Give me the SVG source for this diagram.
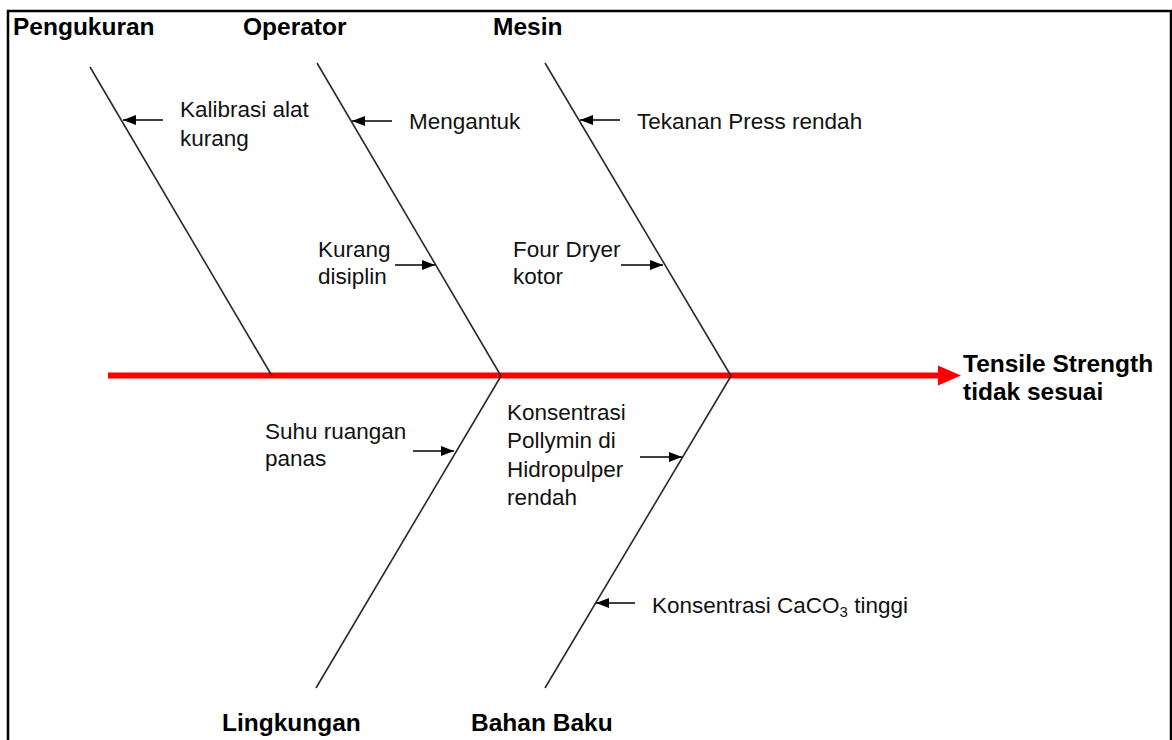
<svg xmlns="http://www.w3.org/2000/svg" width="1172" height="740" viewBox="0 0 1172 740">
  <style>
    .cat { font-family: "Liberation Sans", Arial, sans-serif; font-weight: bold; font-size: 24.5px; fill: #000; }
    .cause { font-family: "Liberation Sans", Arial, sans-serif; font-size: 22.5px; fill: #111; }
    .bone { stroke: #2a2a2a; stroke-width: 1.6; fill: none; }
    .ptr { stroke: #000; stroke-width: 1.6; fill: none; marker-end: url(#head); }
  </style>
  <defs>
    <marker id="head" markerUnits="userSpaceOnUse" markerWidth="14" markerHeight="12" refX="13" refY="6" orient="auto">
      <path d="M0,1 L13,6 L0,11 Z" fill="#000"/>
    </marker>
  </defs>

  <rect width="1172" height="740" fill="#fff"/>
  <!-- frame -->
  <path d="M8,745 V11 H1171 V745" fill="none" stroke="#000" stroke-width="2.5"/>

  <!-- spine and bones -->
  <g id="connectors">
    <line x1="108" y1="375.5" x2="942" y2="375.5" stroke="#ff0000" stroke-width="6"/>
    <polygon points="938,365.5 961,375.5 938,385.5" fill="#ff0000"/>

    <line class="bone" x1="90" y1="67" x2="272" y2="376"/>
    <line class="bone" x1="317" y1="63" x2="501" y2="376"/>
    <line class="bone" x1="545" y1="63" x2="731" y2="376"/>
    <line class="bone" x1="501" y1="376" x2="316" y2="688"/>
    <line class="bone" x1="731" y1="376" x2="545" y2="688"/>

    <line class="ptr" x1="163" y1="120" x2="123" y2="120"/>
    <line class="ptr" x1="392" y1="121" x2="352" y2="121"/>
    <line class="ptr" x1="620" y1="120" x2="580" y2="120"/>
    <line class="ptr" x1="395" y1="265" x2="435" y2="265"/>
    <line class="ptr" x1="621" y1="265" x2="663" y2="265"/>
    <line class="ptr" x1="413" y1="451" x2="454" y2="451"/>
    <line class="ptr" x1="640" y1="457" x2="682" y2="457"/>
    <line class="ptr" x1="635" y1="603" x2="596" y2="603"/>
  </g>

  <!-- category heads -->
  <g id="pengukuran"><text class="cat" x="13" y="35">Pengukuran</text></g>
  <g id="operator"><text class="cat" x="243" y="35">Operator</text></g>
  <g id="mesin"><text class="cat" x="493" y="35">Mesin</text></g>
  <g id="lingkungan"><text class="cat" x="222" y="731">Lingkungan</text></g>
  <g id="bahan-baku"><text class="cat" x="471" y="731">Bahan Baku</text></g>

  <!-- effect -->
  <g id="effect">
    <text class="cat" x="963" y="372">Tensile Strength</text>
    <text class="cat" x="963" y="400">tidak sesuai</text>
  </g>

  <!-- causes -->
  <g id="kalibrasi">
    <text class="cause" x="180" y="117">Kalibrasi alat</text>
    <text class="cause" x="180" y="146">kurang</text>
  </g>
  <g id="mengantuk"><text class="cause" x="409" y="129">Mengantuk</text></g>
  <g id="tekanan"><text class="cause" x="637" y="129">Tekanan Press rendah</text></g>
  <g id="kurang-disiplin">
    <text class="cause" x="318" y="257">Kurang</text>
    <text class="cause" x="318" y="284">disiplin</text>
  </g>
  <g id="four-dryer">
    <text class="cause" x="513" y="257">Four Dryer</text>
    <text class="cause" x="513" y="284">kotor</text>
  </g>
  <g id="suhu">
    <text class="cause" x="265" y="439">Suhu ruangan</text>
    <text class="cause" x="265" y="466">panas</text>
  </g>
  <g id="pollymin">
    <text class="cause" x="507" y="420">Konsentrasi</text>
    <text class="cause" x="507" y="448">Pollymin di</text>
    <text class="cause" x="507" y="477">Hidropulper</text>
    <text class="cause" x="507" y="505">rendah</text>
  </g>
  <g id="caco3">
    <text class="cause" x="652" y="613">Konsentrasi CaCO<tspan font-size="15" dy="4">3</tspan><tspan dy="-4"> tinggi</tspan></text>
  </g>
</svg>
